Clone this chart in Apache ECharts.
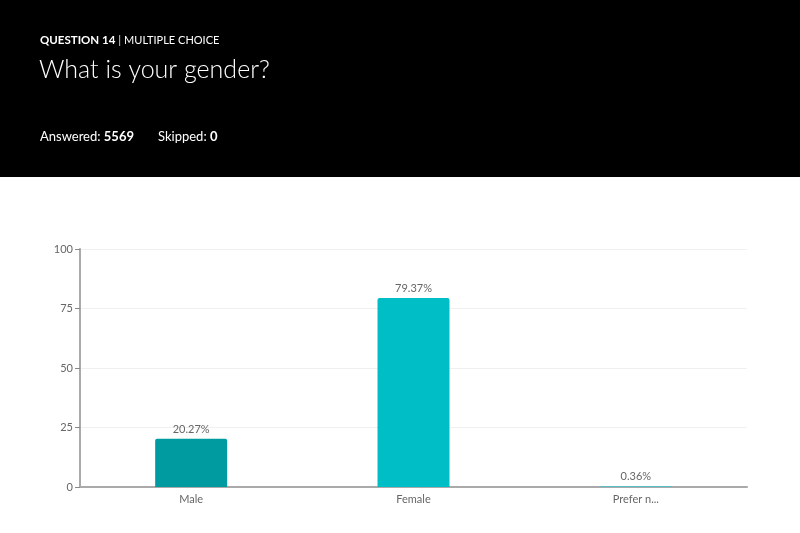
<!DOCTYPE html>
<html><head><meta charset="utf-8">
<script src="https://cdn.jsdelivr.net/npm/echarts@6/dist/echarts.min.js"></script>
<style>html,body{margin:0;padding:0;background:#fff}#c{width:800px;height:533px}</style>
</head><body><div id="c"></div>
<script>
const categories = ['Male', 'Female', 'Prefer not to say'];
const values = [20.27, 79.37, 0.36];
const barColors = ['#009ba1', '#00bec6', '#3ec6cb'];
const yTicks = [0, 25, 50, 75, 100];
const questionLabel = 'QUESTION 14';
const questionType = 'MULTIPLE CHOICE';
const questionTitle = 'What is your gender?';
const answered = 5569;
const skipped = 0;

const FONT = 'Lato, "Noto Sans", sans-serif';
const chart = echarts.init(document.getElementById('c'), null, {renderer: 'canvas'});
chart.setOption({
  animation: false,
  backgroundColor: '#fff',
  graphic: [
    {type: 'rect', shape: {x: 0, y: 0, width: 800, height: 177}, style: {fill: '#000'}, z: -10},
    {type: 'text', left: 40, top: 34, style: {
      text: '{b|' + questionLabel + '}{s| | }{n|' + questionType + '}',
      rich: {
        b: {fill: '#fff', font: 'bold 11.5px ' + FONT},
        s: {fill: '#ddd', font: '11.5px ' + FONT},
        n: {fill: '#fff', font: '11px ' + FONT}
      }
    }},
    {type: 'text', left: 39, top: 57, style: {text: questionTitle, fill: '#fff', font: '300 25px ' + FONT}},
    {type: 'text', left: 40, top: 130, style: {
      text: '{r|Answered: }{b|' + answered + '}',
      rich: {r: {fill: '#fff', font: '13px ' + FONT}, b: {fill: '#fff', font: 'bold 13px ' + FONT}}
    }},
    {type: 'text', left: 158, top: 130, style: {
      text: '{r|Skipped: }{b|' + skipped + '}',
      rich: {r: {fill: '#fff', font: '13px ' + FONT}, b: {fill: '#fff', font: 'bold 13px ' + FONT}}
    }}
  ],
  grid: {left: 80, right: 53, top: 249, bottom: 46, containLabel: false},
  xAxis: {
    type: 'category',
    data: categories,
    axisLine: {lineStyle: {color: '#aaa', width: 2}},
    axisTick: {alignWithLabel: true, length: 5, lineStyle: {color: '#666'}},
    axisLabel: {
      color: '#666', fontSize: 11, fontFamily: FONT, margin: 7,
      formatter: v => v.length > 10 ? v.slice(0, 8) + '...' : v
    }
  },
  yAxis: {
    type: 'value', min: yTicks[0], max: yTicks[yTicks.length - 1], interval: 25,
    axisLine: {show: true, lineStyle: {color: '#aaa', width: 2}},
    axisTick: {show: true, length: 5, lineStyle: {color: '#888'}},
    axisLabel: {color: '#666', fontSize: 11, fontFamily: FONT, margin: 7},
    splitLine: {lineStyle: {color: '#f0f0f0'}}
  },
  series: [{
    type: 'bar',
    barWidth: 72,
    data: values.map((v, i) => ({value: v, itemStyle: {color: barColors[i], borderRadius: [2, 2, 0, 0]}})),
    label: {
      show: true, position: 'top', distance: 4, color: '#666', fontSize: 11, fontFamily: FONT,
      formatter: p => p.value.toFixed(2) + '%'
    }
  }]
});
</script></body></html>
